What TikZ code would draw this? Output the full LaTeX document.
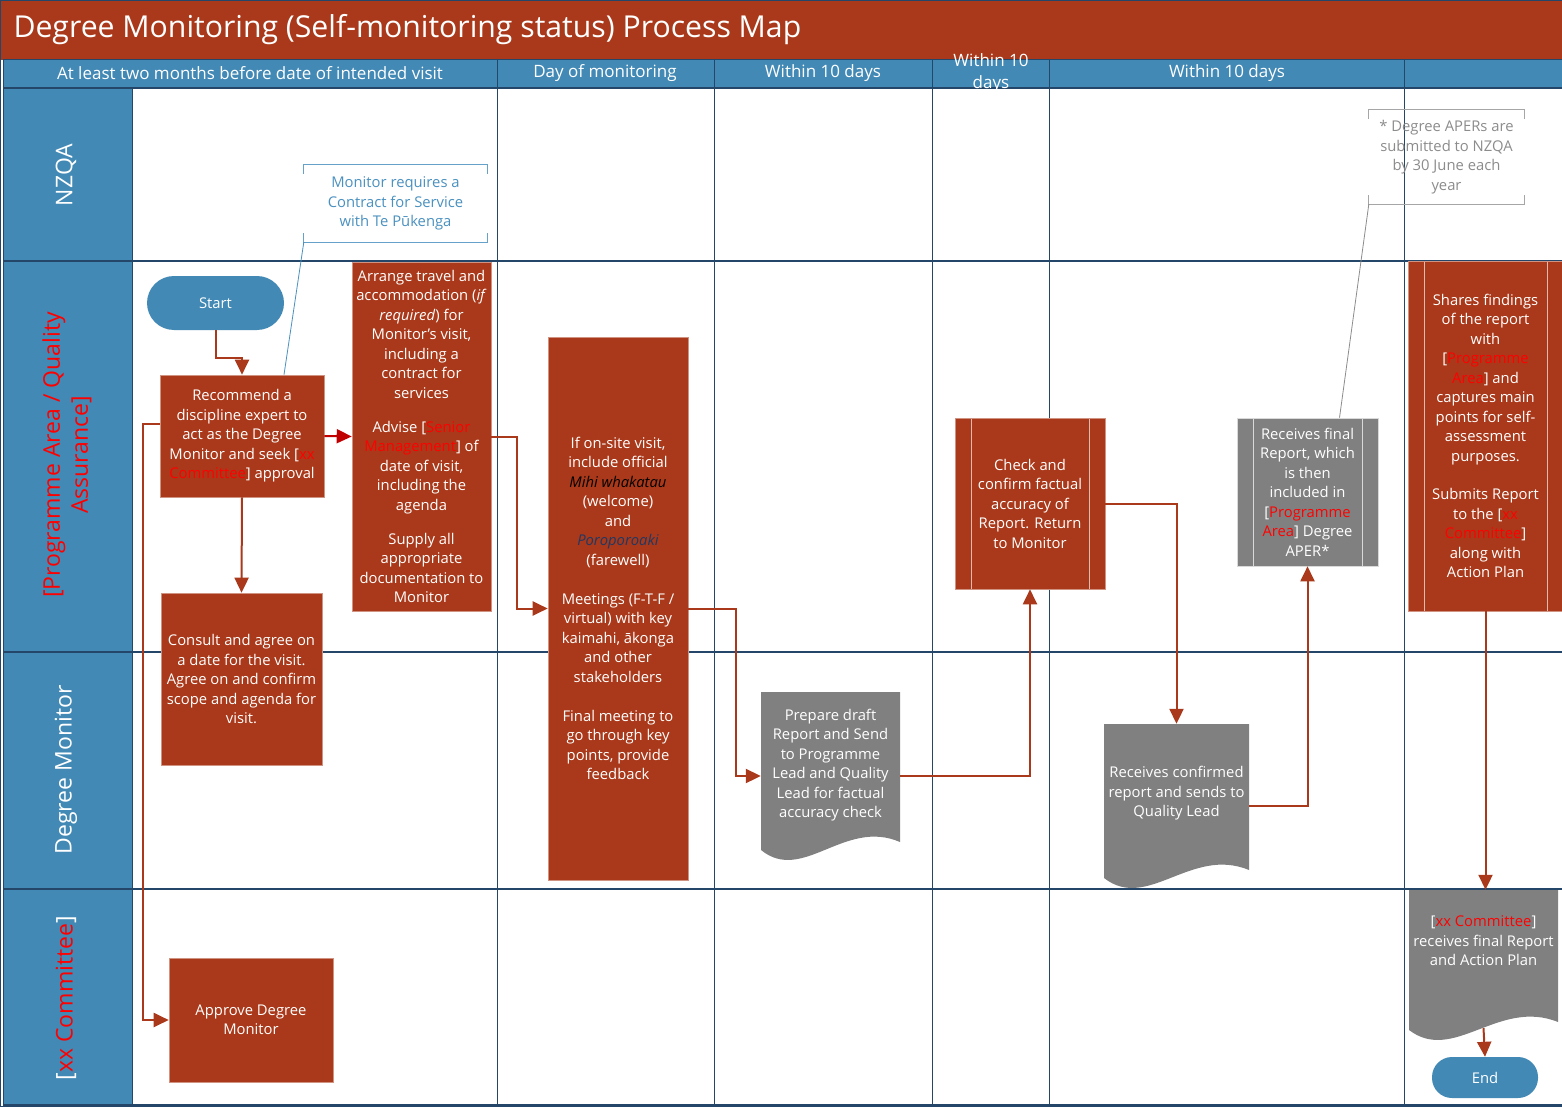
\documentclass[tikz,border=0pt]{standalone}
\usepackage{fontspec}
\setmainfont{Open Sans}
\usetikzlibrary{positioning, calc, arrows.meta}

\definecolor{rust}{RGB}{169,57,26}
\definecolor{lanebg}{RGB}{66,137,181}
\definecolor{linedark}{RGB}{36,70,104}
\definecolor{docgray}{RGB}{128,128,128}
\definecolor{noteblue}{RGB}{74,145,192}
\definecolor{notegray}{RGB}{140,140,140}
\definecolor{hotred}{RGB}{192,0,0}
\definecolor{tagred}{RGB}{255,0,0}
\definecolor{poro}{RGB}{31,56,100}

\newcommand{\rd}[1]{\textcolor{tagred}{#1}}
\newcommand{\boxfont}{\fontsize{14.8}{19.5}\selectfont}

\begin{document}
\begin{tikzpicture}[x=1pt, y=-1pt,
    proc/.style={rectangle, fill=rust, draw=rust!55!white, line width=0.6pt, text=white,
        align=center, inner sep=0pt, font=\boxfont},
    pre/.style={proc, path picture={
        \draw[#1, line width=0.9pt]
            ([xshift=16pt]path picture bounding box.north west) -- ([xshift=16pt]path picture bounding box.south west)
            ([xshift=-16pt]path picture bounding box.north east) -- ([xshift=-16pt]path picture bounding box.south east);}},
    doc/.style={rectangle, inner sep=0pt, text=white, align=center, font=\boxfont, path picture={
        \path (path picture bounding box.south west) coordinate (dsw)
              (path picture bounding box.south east) coordinate (dse);
        \fill[docgray] (path picture bounding box.north west) -- (path picture bounding box.north east)
            -- ($(dse)+(0,-18)$) .. controls ($(dsw)!0.6!(dse)+(0,-42)$) and ($(dsw)!0.3!(dse)+(0,24)$)
            .. ($(dsw)+(0,-10)$) -- cycle;}},
    terminal/.style={rectangle, rounded corners=#1, fill=lanebg, text=white, inner sep=0pt,
        font=\fontsize{14.8}{17}\selectfont},
    note/.style={rectangle, align=center, inner sep=0pt, font=\boxfont},
    flow/.style={draw=rust, line width=2pt, -{Triangle[length=15pt,width=14pt]}},
    lanelabel/.style={rotate=90, text=white, align=center, font=\fontsize{23}{28}\selectfont},
    headtext/.style={text=white, align=center, font=\fontsize{17}{22}\selectfont},
    laneline/.style={draw=linedark, line width=1.6pt},
    colline/.style={draw=linedark, line width=0.8pt}]

    % frame, title and header
    \useasboundingbox (0,0) rectangle (1562,1107);
    \fill[white] (0,0) rectangle (1562,1107);
    \fill[rust] (0,0) rectangle (1562,60);
    \fill[lanebg] (3,60) rectangle (1562,88);
    \fill[lanebg] (3,88) rectangle (132,1105);
    \foreach \cx in {497,714,932,1049,1404}
        \draw[colline] (\cx,60) -- (\cx,1105);
    \draw[colline] (132,88) -- (132,1105);
    \foreach \ly in {88,261,652,889,1105}
        \draw[laneline] (3,\ly) -- (1562,\ly);
    \draw[linedark, line width=1pt] (3,60) -- (1562,60);
    \draw[linedark, line width=1.2pt] (1562,0.6) -- (0.6,0.6) -- (0.6,1106.4) -- (1562,1106.4);
    \draw[linedark, line width=1pt] (3,60) -- (3,1105);

    \node[anchor=west, text=white, font=\fontsize{30.2}{34}\selectfont] (title) at (10,30)
        {Degree Monitoring (Self-monitoring status) Process Map};
    \node[headtext] (hpre) at (250,73) {At least two months before date of intended visit};
    \node[headtext] (hday) at (605,73) {Day of monitoring};
    \node[headtext] (hten) at (823,73) {Within 10 days};
    \node[headtext] (htenb) at (991,73) {Within 10\\days};
    \node[headtext] (htenc) at (1227,73) {Within 10 days};

    % lane labels
    \node[lanelabel] (lnzqa) at (66,175) {NZQA};
    \node[lanelabel, text=tagred] (lprog) at (67,455) {[Programme Area / Quality\\Assurance]};
    \node[lanelabel] (ldeg) at (66,770) {Degree Monitor};
    \node[lanelabel] (lcomm) at (66,998) {[\rd{xx Committee}]};

    % steps
    \node[terminal=27pt, minimum width=137pt, minimum height=54pt] (start) at (215.5,303) {Start};
    \node[proc, minimum width=164pt, minimum height=122pt] (recom) at (242,436)
        {Recommend a\\discipline expert to\\act as the Degree\\Monitor and seek [\rd{xx}\\\rd{Committee}] approval};
    \node[proc, minimum width=139pt, minimum height=349pt] (arrange) at (421.5,436.5)
        {Arrange travel and\\accommodation (\textit{if}\\\textit{required}) for\\Monitor’s visit,\\including a\\contract for\\services\\[14.5pt]
         Advise [\rd{Senior}\\\rd{Management}] of\\date of visit,\\including the\\agenda\\[14.5pt]
         Supply all\\appropriate\\documentation to\\Monitor};
    \node[proc, minimum width=161pt, minimum height=172pt] (consult) at (241.5,679)
        {Consult and agree on\\a date for the visit.\\Agree on and confirm\\scope and agenda for\\visit.};
    \node[proc, minimum width=164pt, minimum height=124pt] (approve) at (251,1020)
        {Approve Degree\\Monitor};
    \node[proc, minimum width=140pt, minimum height=543pt] (visit) at (618,608.5)
        {If on-site visit,\\include official\\\textcolor{black}{\textit{Mihi whakatau}}\\(welcome)\\and\\\textcolor{poro}{\textit{Poroporoaki}}\\(farewell)\\[19.5pt]
         Meetings (F-T-F /\\virtual) with key\\kaimahi, ākonga\\and other\\stakeholders\\[19.5pt]
         Final meeting to\\go through key\\points, provide\\feedback};
    \node[doc, minimum width=139pt, minimum height=168pt, text depth=25pt] (prep) at (830.5,776)
        {Prepare draft\\Report and Send\\to Programme\\Lead and Quality\\Lead for factual\\accuracy check};
    \node[pre=white!65!rust, minimum width=150pt, minimum height=171pt] (check) at (1030,503.5)
        {Check and\\confirm factual\\accuracy of\\Report. Return\\to Monitor};
    \node[doc, minimum width=145pt, minimum height=164pt, text depth=29pt] (confirm) at (1176.5,806)
        {Receives confirmed\\report and sends to\\Quality Lead};
    \node[pre=white!70!docgray, fill=docgray, draw=white!70!docgray, minimum width=141pt, minimum height=148pt] (rfinal) at (1307.5,492)
        {Receives final\\Report, which\\is then\\included in\\{}[\rd{Programme}\\\rd{Area}] Degree\\APER*};
    \node[pre=white!65!rust, minimum width=155pt, minimum height=350pt] (shares) at (1485.5,436)
        {Shares findings\\of the report\\with\\{}[\rd{Programme}\\\rd{Area}] and\\captures main\\points for self-\\assessment\\purposes.\\[19pt]
         Submits Report\\to the [\rd{xx}\\\rd{Committee}]\\along with\\Action Plan};
    \node[doc, minimum width=149pt, minimum height=150pt, text depth=48pt] (commrep) at (1483.5,965)
        {{}[\rd{xx Committee}]\\receives final Report\\and Action Plan};
    \node[terminal=20pt, minimum width=106pt, minimum height=41pt] (stop) at (1485,1077.5) {End};

    % notes
    \node[note, text=noteblue, minimum width=183pt, minimum height=77pt] (nzqnote) at (395.5,203.5)
        {Monitor requires a\\Contract for Service\\with Te Pūkenga};
    \node[note, text=notegray, minimum width=155pt, minimum height=94pt] (apernote) at (1446.5,157)
        {* Degree APERs are\\submitted to NZQA\\by 30 June each\\year};
    \draw[noteblue!85, line width=0.8pt]
        ([yshift=-9pt]nzqnote.north west) -- (nzqnote.north west) -- (nzqnote.north east) -- ([yshift=-9pt]nzqnote.north east)
        ([yshift=9pt]nzqnote.south west) -- (nzqnote.south west) -- (nzqnote.south east) -- ([yshift=9pt]nzqnote.south east);
    \draw[noteblue, line width=0.8pt] (nzqnote.south west) -- ([xshift=42pt]recom.north);
    \draw[black!35, line width=0.8pt]
        ([yshift=-9pt]apernote.north west) -- (apernote.north west) -- (apernote.north east) -- ([yshift=-9pt]apernote.north east)
        ([yshift=9pt]apernote.south west) -- (apernote.south west) -- (apernote.south east) -- ([yshift=9pt]apernote.south east);
    \draw[black!45, line width=0.8pt] (apernote.south west) -- ([xshift=32pt]rfinal.north);

    % connectors
    \draw[flow] (start.south) -- ++(0,28) -| (recom.north);
    \draw[flow, draw=hotred] (recom.east) -- (arrange.west);
    \draw[flow] (recom.south) -- (consult.north);
    \draw[flow] ([yshift=12pt]recom.west) -- ++(-17,0) |- (approve.west);
    \draw[flow] (arrange.east) -- ++(26,0) |- (visit.west);
    \draw[flow] (visit.east) -- ++(48,0) |- (prep.west);
    \draw[flow] (prep.east) -| (check.south);
    \draw[flow] (check.east) -| (confirm.north);
    \draw[flow] (confirm.east) -| (rfinal.south);
    \draw[flow] (shares.south) -- (shares.south |- commrep.north);
    \draw[flow] ([yshift=12pt]commrep.south) -- (stop.north);
\end{tikzpicture}
\end{document}
